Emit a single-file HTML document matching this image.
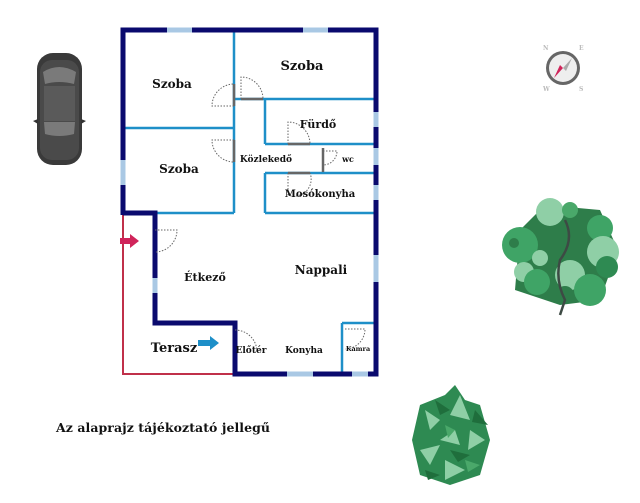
<!DOCTYPE html>
<html><head><meta charset="utf-8"><style>
html,body{margin:0;padding:0;background:#fff;width:640px;height:503px;overflow:hidden}
svg{display:block}
text{font-family:"DejaVu Serif","Liberation Serif",serif;font-weight:bold;fill:#111}
</style></head><body>
<svg width="640" height="503" viewBox="0 0 640 503" xmlns="http://www.w3.org/2000/svg">
<!-- car -->
<g>
<rect x="37" y="53" width="45" height="112" rx="16" fill="#3a3a3a"/>
<rect x="40" y="60" width="39" height="100" rx="12" fill="#4a4a4a"/>
<path d="M43 72 Q59 62 76 72 L74 84 Q59 80 45 84 Z" fill="#7a7a7a"/>
<rect x="44" y="86" width="31" height="35" fill="#5a5a5a"/>
<path d="M44 122 L75 122 L74 134 Q59 138 45 134 Z" fill="#7a7a7a"/>
<path d="M33 121 L38 119 L38 124 Z M86 121 L81 119 L81 124 Z" fill="#333"/>
</g>
<!-- compass -->
<g>
<circle cx="563" cy="68" r="17" fill="#666"/>
<circle cx="563" cy="68" r="14" fill="#eee"/>
<path d="M563 68 L572 58 L566 71 Z" fill="#aaa"/>
<path d="M563 68 L554 78 L560 65 Z" fill="#d0245a"/>
<text x="543" y="50" font-size="6" fill="#bbb" style="fill:#bbb">N</text>
<text x="579" y="50" font-size="6" style="fill:#bbb">E</text>
<text x="543" y="91" font-size="6" style="fill:#bbb">W</text>
<text x="579" y="91" font-size="6" style="fill:#bbb">S</text>
</g>
<!-- tree 1 -->
<g>
<path d="M520 230 L545 205 L600 210 L618 250 L600 300 L560 305 L515 290 Z" fill="#2e7d4a"/>
<circle cx="550" cy="212" r="14" fill="#8fcfa6"/>
<circle cx="570" cy="210" r="8" fill="#4aa86a"/>
<circle cx="520" cy="245" r="18" fill="#3fa466"/>
<circle cx="514" cy="243" r="5" fill="#2e7d4a"/>
<circle cx="600" cy="228" r="13" fill="#3fa466"/>
<circle cx="603" cy="252" r="16" fill="#8fcfa6"/>
<circle cx="607" cy="267" r="11" fill="#2e8a52"/>
<circle cx="540" cy="258" r="8" fill="#8fcfa6"/>
<circle cx="524" cy="272" r="10" fill="#8fcfa6"/>
<circle cx="537" cy="282" r="13" fill="#3fa466"/>
<circle cx="570" cy="275" r="15" fill="#8fcfa6"/>
<circle cx="590" cy="290" r="16" fill="#3fa466"/>
<circle cx="565" cy="295" r="9" fill="#2e7d4a"/>
<path d="M565 220 Q575 240 560 260 Q555 280 565 300 L560 315" stroke="#3d4a44" stroke-width="2.5" fill="none"/>
</g>
<!-- tree 2 -->
<g>
<path d="M420 405 L445 395 L455 385 L465 400 L480 405 L490 440 L480 475 L450 485 L420 475 L412 440 Z" fill="#2e8a52"/>
<path d="M425 410 L440 420 L430 430 Z M460 395 L470 420 L450 415 Z M470 430 L485 440 L468 450 Z M420 450 L440 445 L430 465 Z M445 460 L465 470 L445 480 Z M455 430 L460 445 L440 440 Z" fill="#8fcfa6"/>
<path d="M435 400 L450 410 L440 415 Z M475 410 L488 425 L472 422 Z M450 450 L470 455 L458 462 Z M425 470 L440 475 L428 480 Z" fill="#1f6e3c"/>
<path d="M445 425 L455 430 L448 438 Z M465 460 L480 465 L468 472 Z" fill="#4aa86a"/>
</g>
<!-- floor plan -->
<g fill="none">
<g stroke="#1e8fc8" stroke-width="2.5">
<line x1="234" y1="30" x2="234" y2="213"/>
<line x1="123" y1="128" x2="234" y2="128"/>
<line x1="155" y1="213" x2="234" y2="213"/>
<line x1="234" y1="99" x2="375" y2="99"/>
<line x1="265" y1="99" x2="265" y2="144"/>
<line x1="265" y1="144" x2="375" y2="144"/>
<line x1="265" y1="173" x2="375" y2="173"/>
<line x1="265" y1="173" x2="265" y2="213"/>
<line x1="265" y1="213" x2="375" y2="213"/>
<line x1="342" y1="323" x2="375" y2="323"/>
<line x1="342" y1="323" x2="342" y2="374"/>
</g>
<path d="M123 213 L123 374 L235 374" stroke="#c0304a" stroke-width="2"/>
<path d="M123 215 L123 30 L376 30 L376 374 L235 374 L235 323 L155 323 L155 213 L123 213" stroke="#0a0a6e" stroke-width="5"/>
<g stroke="#a9c8e4" stroke-width="5">
<line x1="167" y1="30" x2="192" y2="30"/>
<line x1="303" y1="30" x2="328" y2="30"/>
<line x1="376" y1="112" x2="376" y2="127"/>
<line x1="376" y1="148" x2="376" y2="165"/>
<line x1="376" y1="185" x2="376" y2="200"/>
<line x1="376" y1="255" x2="376" y2="282"/>
<line x1="123" y1="160" x2="123" y2="185"/>
<line x1="155" y1="278" x2="155" y2="293"/>
<line x1="287" y1="374" x2="313" y2="374"/>
<line x1="352" y1="374" x2="368" y2="374"/>
</g>
<g stroke="#666" stroke-width="1" stroke-dasharray="1.5,1.5">
<path d="M241 99 L241 77 A22 22 0 0 1 263 99"/>
<path d="M234 106 L212 106 A22 22 0 0 1 234 84"/>
<path d="M234 140 L212 140 A22 22 0 0 0 234 162"/>
<path d="M288 144 L288 122 A22 22 0 0 1 310 144"/>
<path d="M323 151 L337 151 A14 14 0 0 1 323 165"/>
<path d="M288 173 L288 195 A17 17 0 0 0 310 173"/>
<path d="M155 230 L177 230 A22 22 0 0 1 155 252"/>
<path d="M235 330 A22 22 0 0 1 257 352"/>
<path d="M345 329 L365 329 A20 20 0 0 1 345 349"/>
</g>
<g stroke="#666" stroke-width="2.5">
<line x1="241" y1="99" x2="263" y2="99"/>
<line x1="234" y1="84" x2="234" y2="106"/>
<line x1="234" y1="140" x2="234" y2="162"/>
<line x1="288" y1="144" x2="310" y2="144"/>
<line x1="323" y1="148" x2="323" y2="172"/>
<line x1="288" y1="173" x2="310" y2="173"/>
</g>
</g>
<path d="M120 238 L130 238 L130 234 L139 241 L130 248 L130 244 L120 244 Z" fill="#d0245a"/>
<path d="M198 340 L210 340 L210 336 L219 343 L210 350 L210 346 L198 346 Z" fill="#1e8fc8"/>
<text x="172" y="88" font-size="12" text-anchor="middle">Szoba</text>
<text x="302" y="70" font-size="13" text-anchor="middle">Szoba</text>
<text x="318" y="128" font-size="11" text-anchor="middle">Fürdő</text>
<text x="266" y="162" font-size="9" text-anchor="middle">Közlekedő</text>
<text x="348" y="162" font-size="8" text-anchor="middle">wc</text>
<text x="320" y="197" font-size="10" text-anchor="middle">Mosókonyha</text>
<text x="179" y="173" font-size="12" text-anchor="middle">Szoba</text>
<text x="205" y="281" font-size="11" text-anchor="middle">Étkező</text>
<text x="321" y="274" font-size="12" text-anchor="middle">Nappali</text>
<text x="174" y="352" font-size="13" text-anchor="middle">Terasz</text>
<text x="251" y="353" font-size="9" text-anchor="middle">Előtér</text>
<text x="304" y="353" font-size="9" text-anchor="middle">Konyha</text>
<text x="358" y="351" font-size="6.5" text-anchor="middle">Kamra</text>
<text x="56" y="432" font-size="12.5" textLength="214">Az alaprajz tájékoztató jellegű</text>
</svg>
</body></html>
